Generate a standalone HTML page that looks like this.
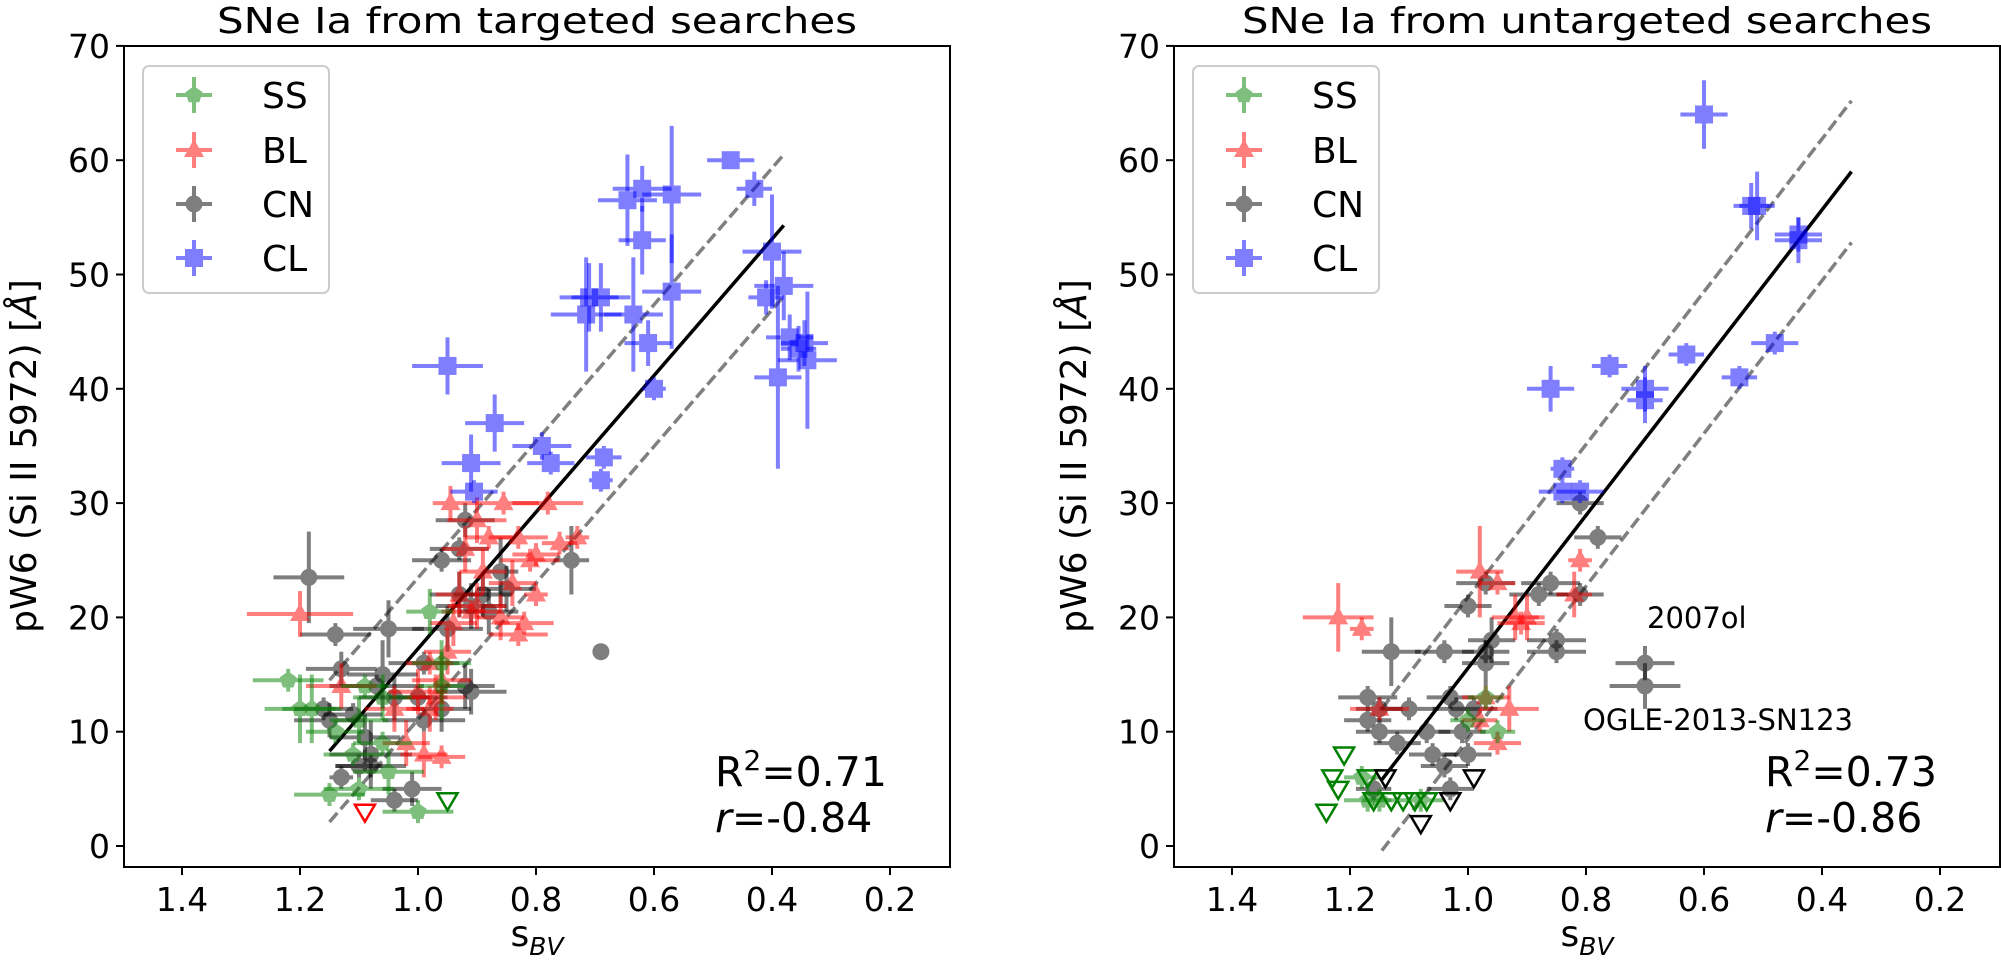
<!DOCTYPE html>
<html><head><meta charset="utf-8"><style>
html,body{margin:0;padding:0;background:#fff;}
svg{display:block;font-family:"DejaVu Sans","Liberation Sans",sans-serif;}
</style></head><body>
<svg id="s" width="2001" height="968" xmlns="http://www.w3.org/2000/svg"></svg>
<script>
const S=document.getElementById('s');let h='';
const Y=v=>846-11.43*v;
const COL={SS:'#008000',BL:'#ff0000',CN:'#000000',CL:'#0000ff'};
function marker(t,cx,cy,c){
 if(t=='CN')return `<circle cx="${cx}" cy="${cy}" r="8.5" fill="${c}"/>`;
 if(t=='CL')return `<rect x="${cx-9}" y="${cy-9}" width="18" height="18" fill="${c}"/>`;
 if(t=='BL')return `<polygon points="${cx},${cy-11} ${cx+10},${cy+7} ${cx-10},${cy+7}" fill="${c}"/>`;
 let p=[];for(let i=0;i<5;i++){const a=-Math.PI/2+i*2*Math.PI/5;p.push((cx+9*Math.cos(a)).toFixed(1)+','+(cy+9*Math.sin(a)).toFixed(1));}
 return `<polygon points="${p.join(' ')}" fill="${c}"/>`;
}
function pt(X,t,d){const c=COL[t];const cx=X(d[0]),cy=Y(d[1]);const dx=d[2]*590,dy=d[3]*11.43;
 return `<g opacity="0.5"><line x1="${cx-dx}" y1="${cy}" x2="${cx+dx}" y2="${cy}" stroke="${c}" stroke-width="4"/><line x1="${cx}" y1="${cy-dy}" x2="${cx}" y2="${cy+dy}" stroke="${c}" stroke-width="4"/>${marker(t,cx,cy,c)}</g>`;}
function tri(X,x,y,c){const cx=X(x),cy=Y(y);return `<polygon points="${cx-10},${cy-7} ${cx+10},${cy-7} ${cx},${cy+10}" fill="none" stroke="${c}" stroke-width="2.5"/>`;}
function panel(L,title,tw,data,opens,fit,rtxt){
 const X=v=>L+884-590*v;
 let g='';
 const [x0,y0,x1,y1]=fit;
 g+=`<line x1="${X(x0)}" y1="${Y(y0)}" x2="${X(x1)}" y2="${Y(y1)}" stroke="#000" stroke-width="3.5"/>`;
 for(const o of [6.2,-6.2])g+=`<line x1="${X(x0)}" y1="${Y(y0+o)}" x2="${X(x1)}" y2="${Y(y1+o)}" stroke="#808080" stroke-width="3.5" stroke-dasharray="12,5"/>`;
 for(const t of ['CN','BL','SS','CL'])for(const d of data[t])g+=pt(X,t,d);
 for(const o of opens)g+=tri(X,o[0],o[1],o[2]);
 h+=g;
 h+=`<rect x="${L}" y="46" width="826" height="821" fill="none" stroke="#000" stroke-width="2"/>`;
 for(let v=0;v<=70;v+=10){const y=Y(v);h+=`<line x1="${L-8}" y1="${y}" x2="${L}" y2="${y}" stroke="#000" stroke-width="2"/><text x="${L-14}" y="${y+12}" font-size="33" text-anchor="end">${v}</text>`;}
 for(const v of [1.4,1.2,1.0,0.8,0.6,0.4,0.2]){const x=X(v);h+=`<line x1="${x}" y1="867" x2="${x}" y2="875" stroke="#000" stroke-width="2"/><text x="${x}" y="911" font-size="33" text-anchor="middle">${v.toFixed(1)}</text>`;}
 h+=`<text x="${L+413-tw/2}" y="33" font-size="36" textLength="${tw}" lengthAdjust="spacingAndGlyphs">${title}</text>`;
 h+=`<text x="${L+413}" y="946" font-size="36" text-anchor="middle">s<tspan font-size="25" font-style="italic" dy="9">BV</tspan></text>`;
 h+=`<text transform="translate(${L-88},456) rotate(-90)" font-size="36" text-anchor="middle">pW6 (Si II 5972) [<tspan font-style="italic">Å</tspan>]</text>`;
 h+=`<rect x="${L+19}" y="66" width="186" height="227" rx="6" fill="#fff" fill-opacity="0.8" stroke="#ccc" stroke-width="2"/>`;
 const ly=[95,150,204,258];['SS','BL','CN','CL'].forEach((t,i)=>{const cx=L+70,cy=ly[i],c=COL[t];
  h+=`<g opacity="0.5"><line x1="${cx-18}" y1="${cy}" x2="${cx+18}" y2="${cy}" stroke="${c}" stroke-width="4"/><line x1="${cx}" y1="${cy-18}" x2="${cx}" y2="${cy+18}" stroke="${c}" stroke-width="4"/>${marker(t,cx,cy,c)}</g><text x="${L+138}" y="${cy+13}" font-size="36">${t}</text>`;});
 h+=`<text x="${L+591}" y="786" font-size="41">R<tspan font-size="28" dy="-16">2</tspan><tspan dy="16">=${rtxt[0]}</tspan></text>`;
 h+=`<text x="${L+591}" y="832" font-size="41"><tspan font-style="italic">r</tspan>=${rtxt[1]}</text>`;
}
const dL={
CL:[[0.47,60,0.04,0.5],[0.43,57.5,0.03,1.5],[0.645,56.5,0.05,4],[0.62,57.5,0.05,2],[0.57,57,0.05,6],[0.62,53,0.04,3],[0.40,52,0.05,5],[0.41,48,0.03,1.5],[0.38,49,0.05,3],[0.71,48,0.05,3],[0.715,46.5,0.06,5],[0.69,48,0.05,3],[0.57,48.5,0.05,5],[0.635,46.5,0.05,5],[0.61,44,0.04,2],[0.37,44.5,0.04,2],[0.345,44,0.04,2],[0.355,43.5,0.03,2],[0.34,42.5,0.05,6],[0.39,41,0.04,8],[0.60,40,0.02,1],[0.95,42,0.06,2.5],[0.87,37,0.05,2.5],[0.79,35,0.05,1.2],[0.775,33.5,0.04,1],[0.685,34,0.03,1],[0.69,32,0.02,1],[0.91,33.5,0.05,2.5],[0.905,31,0.04,1]],
BL:[[1.20,20.3,0.09,2],[0.945,30,0.03,1.5],[0.90,28.5,0.05,2],[0.855,30,0.06,1],[0.78,30,0.06,1],[0.88,27,0.04,1],[0.92,26,0.04,2],[0.83,27,0.05,1],[0.80,25.5,0.04,1],[0.76,26.5,0.03,1],[0.73,27,0.02,1],[0.89,24,0.04,2],[0.81,25,0.05,1],[0.84,23,0.04,2],[0.86,20,0.04,2],[0.80,22,0.02,1],[0.90,21,0.05,2],[0.93,22,0.04,2],[0.94,19.5,0.04,2],[0.83,18.5,0.05,1],[0.82,19.5,0.05,1],[0.96,14.5,0.05,2],[0.98,16,0.04,1],[0.95,17,0.04,2],[0.97,13,0.05,2],[1.00,13.5,0.05,2],[0.98,12,0.04,2],[1.13,14,0.06,2],[1.04,12,0.05,2],[1.02,9,0.04,2],[0.99,8,0.04,2],[0.96,7.8,0.04,1],[0.91,20.5,0.05,1]],
CN:[[1.185,23.5,0.06,4],[1.14,18.5,0.06,1],[1.13,15.5,0.06,1.5],[1.05,19,0.06,2.5],[1.06,15,0.06,3],[1.07,14,0.08,1],[1.04,13,0.06,2],[1.11,11.5,0.05,1],[1.16,12,0.05,1],[1.15,11,0.06,1.5],[1.09,9.5,0.06,2],[1.08,8,0.07,3],[1.08,7,0.06,1],[1.13,6,0.02,1],[1.01,5,0.05,1.5],[1.04,4,0.04,1],[0.99,11,0.07,1],[1.00,13,0.05,1],[0.96,12,0.05,2],[0.91,13.5,0.06,2],[0.92,14,0.05,2],[0.99,16,0.06,1],[0.95,19,0.06,2],[0.91,21,0.06,2],[0.88,20.5,0.05,2],[0.89,22,0.05,2],[0.93,22,0.05,2],[0.96,25,0.05,1],[0.92,28.5,0.05,1.5],[0.93,26,0.05,1],[0.85,22.5,0.05,2],[0.86,24,0.03,3],[0.74,25,0.03,3],[0.69,17,0.01,0.5],[1.10,7,0.04,1]],
SS:[[1.22,14.5,0.06,1],[1.20,12,0.06,3],[1.18,12,0.05,3],[1.14,10,0.05,1],[1.15,4.5,0.06,1],[1.10,5,0.06,1],[1.00,3,0.06,1],[1.06,13,0.05,2],[1.10,11,0.05,2],[1.09,14,0.04,1],[0.96,16,0.05,2],[0.98,20.5,0.04,2],[0.96,14,0.04,3],[1.11,8,0.05,1],[1.06,9,0.05,1],[1.05,6.5,0.06,2]]};
const dR={
CL:[[0.60,64,0.04,3],[0.52,56,0.03,2],[0.51,56,0.03,3],[0.44,53.5,0.04,1.5],[0.44,53,0.04,2],[0.48,44,0.04,1],[0.54,41,0.03,1],[0.63,43,0.03,1],[0.76,42,0.03,1],[0.70,40,0.04,2],[0.70,39,0.03,2],[0.86,40,0.04,2],[0.84,33,0.02,1],[0.84,31,0.04,1],[0.81,31,0.04,1]],
BL:[[1.22,20,0.06,3],[1.18,19,0.02,1],[0.98,24,0.04,4],[0.81,25,0.02,1],[0.82,22,0.03,2],[0.92,20,0.04,2],[0.91,19.5,0.04,1],[0.90,20,0.03,2],[0.95,23,0.03,1],[0.97,13,0.04,1],[0.93,12,0.05,2],[0.95,9,0.04,1],[0.98,11,0.03,1],[1.15,12,0.05,1]],
CN:[[0.81,30,0.04,1],[0.78,27,0.04,1],[0.86,23,0.05,1],[0.88,22,0.05,1],[0.81,22,0.04,1],[0.85,18,0.05,1],[0.85,17,0.05,1],[0.97,23,0.05,1],[1.00,21,0.04,1],[0.96,18,0.04,2],[0.97,17,0.04,1],[0.97,16,0.04,2],[1.04,17,0.05,1],[1.13,17,0.05,3],[1.10,12,0.05,1],[1.15,12,0.04,1],[1.17,13,0.05,1],[1.17,11,0.04,1],[1.15,10,0.04,1],[1.07,10,0.04,1],[1.03,13,0.04,1],[1.02,12,0.04,1],[0.99,12,0.04,1],[1.01,10,0.04,1],[1.06,8,0.04,1],[1.04,7,0.04,1],[1.03,5,0.04,1],[1.16,5,0.03,1],[0.70,16,0.05,1.5],[0.70,14,0.06,2],[1.12,9,0.04,1],[1.00,8,0.04,1]],
SS:[[1.18,6,0.03,1],[1.17,4,0.04,1],[1.15,4,0.03,1],[0.95,10,0.03,1],[0.97,13,0.03,1],[1.00,11,0.03,1],[1.08,4,0.04,1]]};
panel(124,'SNe Ia from targeted searches',640,dL,[[1.09,3,'#ff0000'],[0.95,4,'#008000']],[1.15,8.3,0.38,54.3],['0.71','-0.84']);
panel(1174,'SNe Ia from untargeted searches',690,dR,[[1.24,3,'#008000'],[1.22,5,'#008000'],[1.21,8,'#008000'],[1.23,6,'#008000'],[1.17,6,'#008000'],[1.16,4,'#008000'],[1.13,4,'#008000'],[1.11,4,'#008000'],[1.09,4,'#008000'],[1.07,4,'#008000'],[1.14,6,'#000'],[1.08,2,'#000'],[1.03,4,'#000'],[0.99,6,'#000']],[1.146,5.8,0.35,59],['0.73','-0.86']);
h+=`<text x="1647" y="628" font-size="29">2007ol</text><text x="1853" y="730" font-size="29" text-anchor="end">OGLE-2013-SN123</text>`;
S.innerHTML=h;
</script>
</body></html>
